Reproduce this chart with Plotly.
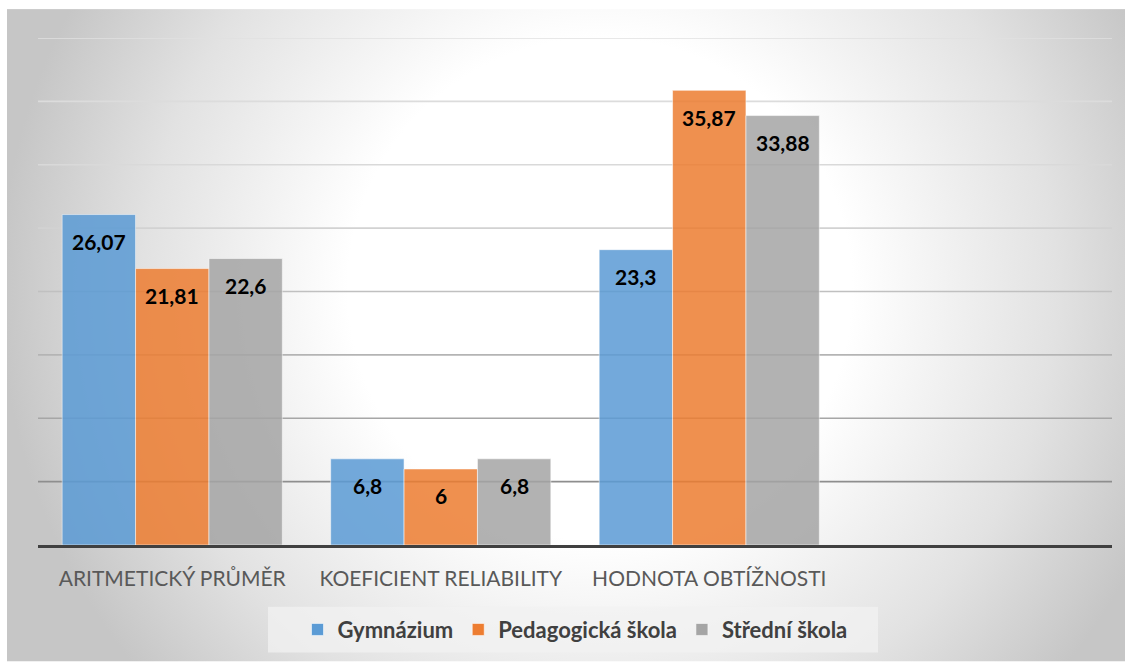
import base64
import plotly.graph_objects as go

# ---- data ----
categories = ["ARITMETICKÝ PRŮMĚR", "KOEFICIENT RELIABILITY", "HODNOTA OBTÍŽNOSTI"]
series_names = ["Gymnázium", "Pedagogická škola", "Střední škola"]
gymnazium = [26.07, 6.8, 23.3]
pedagogicka = [21.81, 6.0, 35.87]
stredni = [22.6, 6.8, 33.88]
label_gymnazium = ["26,07", "6,8", "23,3"]
label_pedagogicka = ["21,81", "6", "35,87"]
label_stredni = ["22,6", "6,8", "33,88"]
grid_values = [5, 10, 15, 20, 25, 30, 35, 40]

# ---- style ----
W, H = 1131, 663
ML, MR, MT, MB = 38, 19, 38, 116
PW, PH = W - ML - MR, H - MT - MB
colors = ["#5B9BD5", "#ED7D31", "#A5A5A5"]
grid_colors = ["#8e8e8e", "#a6a6a6", "#b4b4b4", "#c0c0c0", "#d2d2d2", "#d9d9d9", "#dcdcdc", "#e0e0e0"]
BARGAP = 0.18
N_SLOTS = 4
FONT = "Lato"

values = [gymnazium, pedagogicka, stredni]
labels = [label_gymnazium, label_pedagogicka, label_stredni]

fig = go.Figure()
for name, vals, col in zip(series_names, values, colors):
    fig.add_trace(go.Bar(
        name=name, x=categories, y=vals,
        marker=dict(color=col, opacity=0.85,
                    line=dict(color="rgba(255,255,255,0.55)", width=1)),
        hoverinfo="skip",
    ))

# data labels
slot_px = PW / N_SLOTS
bar_px = slot_px * (1 - BARGAP) / len(series_names)
annotations = []
for i, (vals, labs) in enumerate(zip(values, labels)):
    shift = (i - (len(series_names) - 1) / 2) * bar_px
    for cat, v, lab in zip(categories, vals, labs):
        annotations.append(dict(
            x=cat, y=v, xref="x", yref="y", text=f"<b>{lab}</b>",
            showarrow=False, xshift=shift, yshift=-27, yanchor="middle",
            font=dict(family=FONT, size=21, color="#000000"),
        ))

# background radial gradient (chart area)
bx0, by0, bx1, by1 = 7, 9, 1125, 664
bw, bh = bx1 - bx0, by1 - by0
svg = f'''<svg xmlns="http://www.w3.org/2000/svg" width="{bw}" height="{bh}" viewBox="0 0 {bw} {bh}" preserveAspectRatio="none">
<defs><radialGradient id="g" gradientUnits="userSpaceOnUse" cx="{600-bx0}" cy="{290-by0}" r="600">
<stop offset="0" stop-color="#ffffff"/><stop offset="0.42" stop-color="#ffffff"/>
<stop offset="0.76" stop-color="#e2e2e2"/><stop offset="1" stop-color="#c6c6c6"/>
</radialGradient></defs><rect x="0" y="0" width="{bw}" height="{bh}" fill="url(#g)"/></svg>'''
src = "data:image/svg+xml;base64," + base64.b64encode(svg.encode()).decode()

def px2paper_x(px):
    return (px - ML) / PW

def px2paper_y(py):
    return (MT + PH - py) / PH

images = [dict(
    source=src, xref="paper", yref="paper",
    x=px2paper_x(bx0), y=px2paper_y(by0),
    sizex=bw / PW, sizey=bh / PH,
    xanchor="left", yanchor="top", sizing="stretch", layer="below",
)]

shapes = []
for gv, gc in zip(grid_values, grid_colors):
    shapes.append(dict(type="line", xref="paper", yref="y", x0=0, x1=1.0,
                       y0=gv, y1=gv, line=dict(color=gc, width=1.6), layer="below"))
# legend box
shapes.append(dict(type="rect", xref="paper", yref="paper",
                   x0=px2paper_x(268), x1=px2paper_x(878),
                   y0=px2paper_y(655), y1=px2paper_y(609),
                   fillcolor="rgba(242,242,242,0.75)", line=dict(width=0), layer="below"))

fig.update_layout(
    width=W, height=H,
    margin=dict(l=ML, r=MR, t=MT, b=MB, pad=0),
    paper_bgcolor="#ffffff", plot_bgcolor="rgba(0,0,0,0)",
    barmode="group", bargap=BARGAP, bargroupgap=0,
    images=images, shapes=shapes, annotations=annotations,
    showlegend=True,
    legend=dict(orientation="h", x=0.5, xanchor="center",
                y=px2paper_y(632), yanchor="middle",
                bgcolor="rgba(0,0,0,0)",
                font=dict(family=FONT, size=22, color="#404040", weight="bold"),
                itemclick=False, itemdoubleclick=False),
    xaxis=dict(categoryorder="array", categoryarray=categories,
               range=[-0.5, N_SLOTS - 0.5], showgrid=False, zeroline=False,
               showline=True, linecolor="#404040", linewidth=3,
               ticks="", ticklabelstandoff=13,
               tickfont=dict(family=FONT, size=21, color="#595959"),
               fixedrange=True),
    yaxis=dict(range=[0, 40], showgrid=False, zeroline=False,
               showticklabels=False, showline=False, ticks="", fixedrange=True),
    font=dict(family=FONT),
)

fig.write_html("out.html", config={"displayModeBar": False},
               post_script="document.body.style.margin='0';document.body.style.overflow='hidden';")
